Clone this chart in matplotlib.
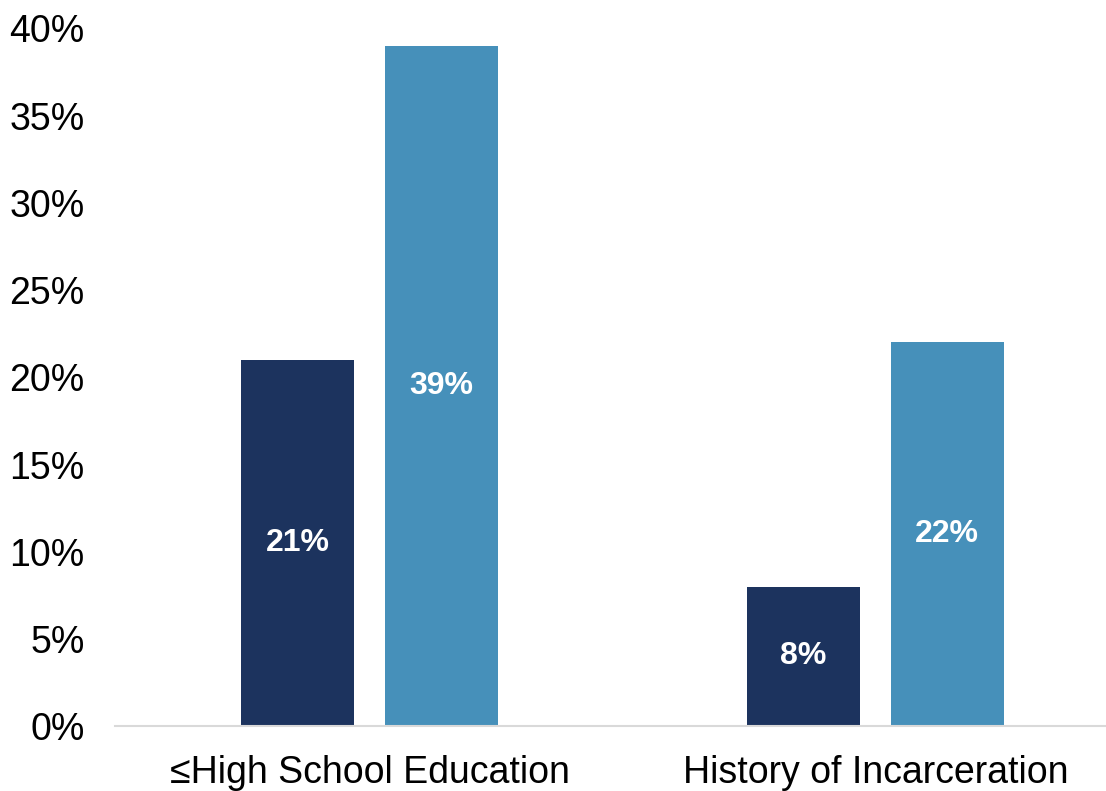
import matplotlib
matplotlib.use("Agg")
import matplotlib.pyplot as plt
import numpy as np

categories = ["\u2264High School Education", "History of Incarceration"]
series_a = [21, 8]
series_b = [39, 22]
yticks = [0, 5, 10, 15, 20, 25, 30, 35, 40]

plt.rcParams['font.family'] = ['Liberation Sans', 'DejaVu Sans']

fig = plt.figure(figsize=(11.06, 7.91), dpi=100)
ax = fig.add_axes([0.104, 0.082, 0.896, 0.882])

x = np.arange(len(categories))
w = 0.223
off = 0.142
bars_a = ax.bar(x - off, series_a, width=w, color="#1c335e")
bars_b = ax.bar(x + off, series_b, width=w, color="#4690ba")

for bars, vals in ((bars_a, series_a), (bars_b, series_b)):
    for b, v in zip(bars, vals):
        ax.text(b.get_x() + b.get_width() / 2, v / 2, f"{v}%", ha="center", va="center",
                color="white", fontsize=23, fontweight="bold")

ax.set_xlim(-0.503, 1.456)
ax.set_ylim(0, 40)
ax.set_yticks(yticks)
ax.set_yticklabels([f"{t}%" for t in yticks])
ax.set_xticks(x)
ax.set_xticklabels(categories)
ax.tick_params(axis="y", length=0, pad=22, labelsize=27)
ax.tick_params(axis="x", length=0, pad=21, labelsize=27)
for sp in ("top", "right", "left"):
    ax.spines[sp].set_visible(False)
ax.spines["bottom"].set_color("#d9d9d9")
ax.spines["bottom"].set_linewidth(1.5)

fig.savefig("out.png", dpi=100)
